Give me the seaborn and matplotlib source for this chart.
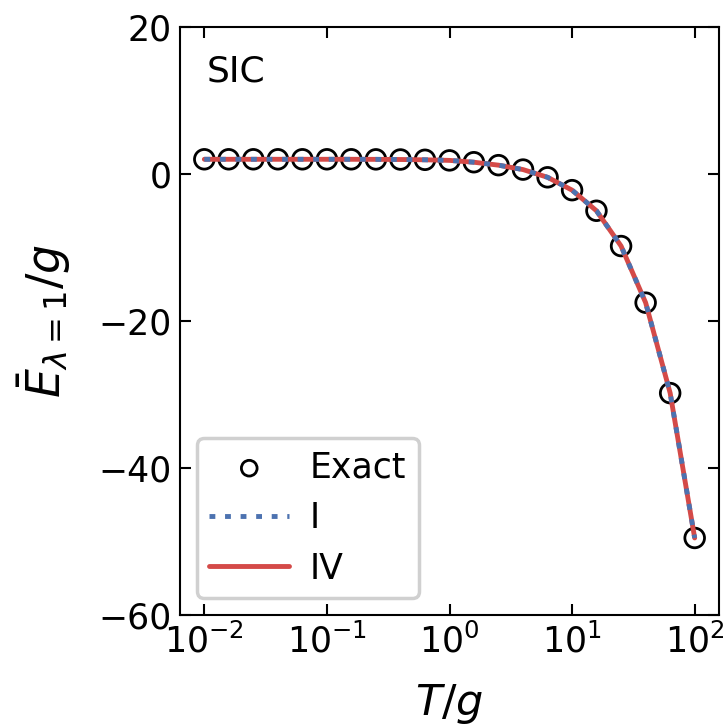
import numpy as np
import matplotlib
matplotlib.use("Agg")
import matplotlib.pyplot as plt
import seaborn as sns
import pandas as pd

# temperatures (5 points per decade, 1e-2 .. 1e2)
T = [0.01, 0.0158, 0.0251, 0.0398, 0.0631, 0.1, 0.158, 0.251, 0.398, 0.631,
     1.0, 1.58, 2.51, 3.98, 6.31, 10.0, 15.8, 25.1, 39.8, 63.1, 100.0]
# exact energy
E_exact = [2.0, 2.0, 2.0, 2.0, 2.0, 2.0, 2.0, 1.99, 1.97, 1.93,
           1.85, 1.6, 1.2, 0.6, -0.45, -2.2, -5.0, -9.8, -17.5, -29.8, -49.5]
# approximation I (dotted)
E_I = [2.0, 2.0, 2.0, 2.0, 2.0, 2.0, 2.0, 1.99, 1.97, 1.93,
       1.85, 1.6, 1.2, 0.6, -0.45, -2.2, -5.0, -9.8, -17.5, -29.8, -49.5]
# approximation IV (solid)
E_IV = [2.0, 2.0, 2.0, 2.0, 2.0, 2.0, 2.0, 1.99, 1.97, 1.93,
        1.85, 1.6, 1.2, 0.6, -0.45, -2.2, -5.0, -9.8, -17.5, -29.8, -49.5]

sns.set_style("ticks")
plt.rcParams['font.family'] = ['DejaVu Sans']
plt.rcParams['mathtext.fontset'] = 'dejavusans'
for k in ['text.color', 'axes.labelcolor', 'xtick.color', 'ytick.color',
          'axes.edgecolor']:
    plt.rcParams[k] = 'black'

fig = plt.figure(figsize=(7.25, 7.28), dpi=100)
ax = fig.add_axes([0.248, 0.155, 0.744, 0.808])

df = pd.DataFrame({"T": T, "exact": E_exact, "I": E_I, "IV": E_IV})

sns.scatterplot(data=df, x="T", y="exact", ax=ax, marker="o", s=200,
                facecolor="none", edgecolor="black", linewidth=2,
                label="Exact", zorder=2)
sns.lineplot(data=df, x="T", y="I", ax=ax, color="#4c72b0", lw=3.5,
             linestyle=(0, (1.2, 2.0)), label="I", zorder=4)
sns.lineplot(data=df, x="T", y="IV", ax=ax, color="#d44a48", lw=3.5,
             label="IV", zorder=3)

ax.set_xscale("log")
ax.set_ylim(-60, 20)
ax.set_yticks([-60, -40, -20, 0, 20])
ax.set_xticks([1e-2, 1e-1, 1e0, 1e1, 1e2])
ax.minorticks_off()
ax.tick_params(direction="in", top=True, right=True, length=8, width=1.5,
               labelsize=25, pad=6)
for s in ax.spines.values():
    s.set_linewidth(1.5)

ax.set_xlabel(r"$T/g$", fontsize=31, labelpad=16)
ax.set_ylabel(r"$\bar{E}_{\lambda=1}/g$", fontsize=33, labelpad=18)

ax.text(0.05, 0.925, "SIC", transform=ax.transAxes, fontsize=26,
        va="center", ha="left")

leg = ax.legend(loc="lower left", fontsize=25, handlelength=2.3,
                markerscale=0.8, frameon=True, fancybox=True, framealpha=1,
                borderpad=0.35, labelspacing=0.48, handletextpad=0.6,
                borderaxespad=0.5)
leg.get_frame().set_edgecolor("#d0d0d0")
leg.get_frame().set_linewidth(2.5)

fig.savefig("out.png", dpi=100)
